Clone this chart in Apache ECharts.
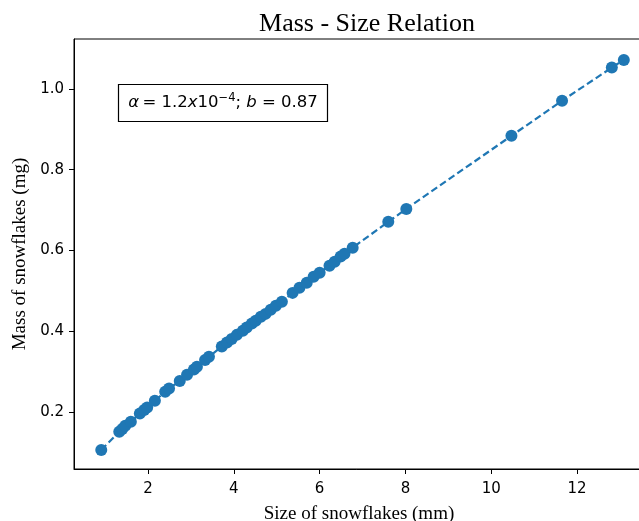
<!DOCTYPE html>
<html>
<head>
<meta charset="utf-8">
<script src="https://cdn.jsdelivr.net/npm/echarts@6/dist/echarts.min.js"></script>
<style>html,body{margin:0;padding:0;background:#fff;}#c{width:639px;height:521px;}</style>
</head>
<body>
<div id="c"></div>
<script>
const sizes = [0.91,1.33,1.40,1.47,1.60,1.81,1.91,1.98,2.16,2.40,2.49,2.74,2.91,3.07,3.14,3.33,3.42,3.72,3.84,3.95,4.07,4.21,4.30,4.42,4.51,4.63,4.74,4.86,4.98,5.12,5.37,5.53,5.70,5.86,6.00,6.23,6.35,6.49,6.58,6.77,7.60,8.02,10.47,11.65,12.81,13.09];
const masses = [0.106,0.151,0.158,0.166,0.176,0.196,0.205,0.211,0.228,0.250,0.258,0.277,0.292,0.305,0.312,0.329,0.337,0.362,0.372,0.381,0.391,0.401,0.409,0.419,0.426,0.436,0.443,0.453,0.463,0.473,0.495,0.508,0.520,0.535,0.545,0.562,0.572,0.585,0.592,0.607,0.671,0.703,0.884,0.971,1.053,1.072];
const xTicks = [2,4,6,8,10,12];
const yTicks = [0.2,0.4,0.6,0.8,1.0];

const chart = echarts.init(document.getElementById('c'));
const axisTxt = {color:'#000', fontFamily:'DejaVu Sans', fontSize:15};
chart.setOption({
  animation:false,
  backgroundColor:'#fff',
  title:{text:'Mass - Size Relation', left:362, top:6, textAlign:'center',
    textStyle:{fontFamily:'Liberation Serif', fontWeight:'normal', fontSize:26, color:'#000'}},
  grid:{left:74, top:39, width:570, height:430, outerBoundsMode:'none', containLabel:false,
    show:true, borderColor:'#000', borderWidth:1, backgroundColor:'transparent'},
  xAxis:{type:'value', min:0.275, max:13.56,
    name:'Size of snowflakes (mm)', nameLocation:'middle', nameGap:36,
    nameTextStyle:{fontFamily:'Liberation Serif', fontSize:19, color:'#000'},
    axisLine:{show:true, onZero:false, lineStyle:{color:'#000', width:1}},
    axisTick:{show:true, length:5, customValues:xTicks, lineStyle:{color:'#000'}},
    axisLabel:{...axisTxt, margin:13, customValues:xTicks, formatter:v=>String(v)},
    splitLine:{show:false}},
  yAxis:{type:'value', min:0.0588, max:1.1238,
    name:'Mass of snowflakes (mg)', nameLocation:'middle', nameGap:44, nameRotate:90,
    nameTextStyle:{fontFamily:'Liberation Serif', fontSize:19, color:'#000'},
    axisLine:{show:true, onZero:false, lineStyle:{color:'#000', width:1}},
    axisTick:{show:true, length:5, customValues:yTicks, lineStyle:{color:'#000'}},
    axisLabel:{...axisTxt, margin:10, customValues:yTicks, formatter:v=>v.toFixed(1)},
    splitLine:{show:false}},
  graphic:[
    {type:'rect', shape:{x:118.5, y:84.5, width:209, height:37}, style:{fill:'#fff', stroke:'#000', lineWidth:1.2}, z:10},
    {type:'text', x:223, y:103, z:11, style:{
      text:'{i|α} {n|= 1.2}{i|x}{n|10}{s|−4}{n|; }{i|b}{n| = 0.87}',
      align:'center', verticalAlign:'middle',
      rich:{
        i:{fontFamily:'DejaVu Sans', fontStyle:'italic', fontSize:16.5, fill:'#000'},
        n:{fontFamily:'DejaVu Sans', fontSize:16.5, fill:'#000'},
        s:{fontFamily:'DejaVu Sans', fontSize:11.5, fill:'#000', verticalAlign:'top', padding:[0,0,10,0]}
      }}}
  ],
  series:[{type:'line', data:sizes.map((s,i)=>[s,masses[i]]),
    symbol:'circle', symbolSize:12, showSymbol:true,
    itemStyle:{color:'#1f77b4'},
    lineStyle:{color:'#1f77b4', width:2.2, type:[7,3.5]}}]
});
</script>
</body>
</html>
